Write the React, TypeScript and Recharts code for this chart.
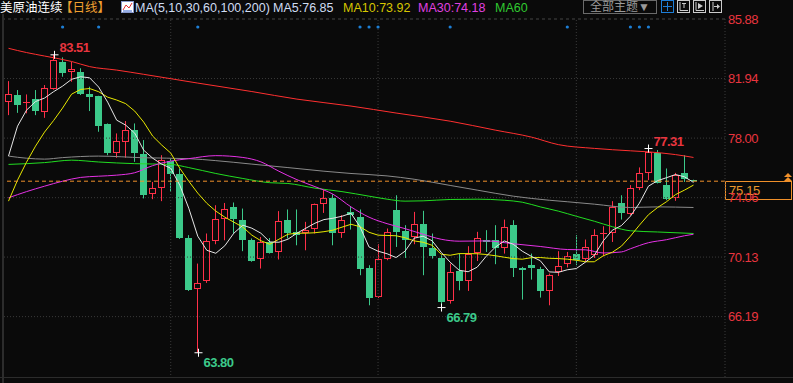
import React from "react";
import {
  ComposedChart,
  Bar,
  Line,
  XAxis,
  YAxis,
  ReferenceLine,
  ReferenceDot,
} from "recharts";

// daily candles, oldest first
const opens = [
  80.4, 80.85, 80.3, 80.56, 79.74, 81.26, 83.05, 82.35, 82.35, 80.89,
  80.78, 78.93, 77.03, 77.75, 78.53, 76.94, 74.27, 74.71, 76.5, 75.61,
  71.4, 68.05, 68.55, 71.2, 72.64, 73.41, 72.57, 71.24, 69.97, 71.13,
  70.47, 72.57, 71.8, 71.69, 71.97, 73.67, 74.05, 71.75, 73.08, 72.79,
  69.44, 67.49, 69.99, 73.23, 71.84, 71.46, 72.3, 70.76, 70.1, 67.21,
  69.19, 68.55, 70.43, 71.24, 71.29, 70.76, 72.24, 69.41, 69.59, 69.32,
  67.87, 69.11, 69.64, 70.36, 69.97, 70.25, 71.64, 71.75, 73.71, 73.01,
  74.67, 75.7, 76.99, 74.89, 74.01, 75.68, 75.2,
];
const highs = [
  81.77, 81.18, 80.89, 81.18, 81.51, 83.51, 83.34, 83.05, 82.62, 81.4,
  80.8, 78.97, 78.31, 79.13, 78.97, 77.87, 75.1, 76.87, 76.66, 75.99,
  71.58, 69.7, 71.69, 73.56, 73.71, 73.74, 73.34, 71.36, 71.46, 71.39,
  73.17, 73.28, 73.28, 72.46, 73.67, 74.6, 74.29, 72.9, 73.45, 73.28,
  69.59, 70.98, 72.02, 74.22, 72.24, 73.12, 73.19, 71.69, 70.25, 69.7,
  70.36, 70.85, 71.8, 71.91, 72.24, 72.61, 72.57, 69.48, 70.36, 69.48,
  69.04, 70.52, 70.47, 71.58, 71.29, 71.97, 72.17, 73.83, 74.22, 74.89,
  76.06, 77.31, 77.21, 75.99, 75.7, 76.87, 75.25,
];
const lows = [
  79.52, 79.67, 79.64, 79.52, 79.34, 81.2, 82.06, 81.73, 80.85, 79.79,
  78.42, 76.87, 76.7, 76.7, 76.43, 74.01, 73.96, 73.83, 74.44, 71.33,
  67.89, 63.8, 68.42, 70.98, 71.24, 71.69, 70.52, 69.82, 69.37, 70.36,
  69.97, 71.36, 70.91, 70.58, 71.69, 73.05, 70.91, 71.4, 71.95, 68.93,
  66.94, 67.42, 69.92, 70.8, 70.07, 70.98, 68.93, 70.03, 66.79, 67.05,
  67.93, 67.89, 69.87, 70.47, 69.66, 70.36, 68.81, 67.32, 68.64, 67.45,
  66.94, 68.88, 69.44, 69.59, 69.81, 70.07, 70.18, 71.13, 72.61, 72.9,
  74.56, 75.22, 75.0, 73.89, 73.85, 75.1, 75.1,
];
const closes = [
  80.89, 80.18, 80.36, 79.79, 81.29, 83.16, 82.32, 82.55, 80.89, 80.73,
  78.79, 76.99, 77.8, 78.53, 77.03, 74.22, 74.67, 76.54, 75.61, 71.4,
  67.93, 68.44, 71.18, 72.64, 73.34, 72.64, 71.24, 69.87, 71.13, 70.4,
  72.5, 71.73, 71.58, 71.95, 73.63, 74.07, 71.69, 72.61, 72.9, 69.32,
  67.42, 69.97, 71.8, 71.8, 71.24, 72.3, 70.8, 70.18, 67.16, 69.11,
  68.55, 70.36, 71.42, 71.13, 70.73, 72.13, 69.41, 69.3, 69.44, 67.87,
  68.97, 69.54, 70.21, 69.92, 70.8, 71.62, 71.73, 73.41, 73.05, 74.67,
  75.66, 77.09, 75.04, 73.94, 75.59, 75.28, 75.15,
];

// moving averages
const ma5 = [
  76.81, 78.79, 79.85, 80.42, 80.65, 81.07, 81.44, 81.89, 82.06, 81.99,
  81.38, 80.38, 79.19, 78.86, 78.33, 77.2, 76.67, 76.28, 76.01, 74.89,
  73.36, 71.51, 70.58, 70.38, 70.88, 71.71, 72.24, 72.04, 71.71, 71.13,
  71.11, 71.31, 71.71, 72.04, 72.37, 72.61, 72.7, 72.83, 73.03, 72.13,
  70.8, 70.52, 70.35, 70.1, 70.52, 71.38, 71.51, 71.21, 70.45, 69.79,
  69.26, 69.16, 69.46, 70.18, 70.78, 71.2, 70.98, 70.52, 70.18, 69.89,
  69.15, 69.12, 69.29, 69.37, 69.79, 70.25, 71.21, 71.91, 72.21, 72.83,
  73.7, 74.82, 75.18, 75.38, 75.59, 75.44, 75.07,
];
const ma10 = [
  73.83, 75.22, 76.41, 77.47, 78.4, 79.16, 79.99, 80.91, 81.22, 81.28,
  81.07, 80.71, 80.52, 80.28, 79.79, 79.06, 78.13, 77.54, 77.01, 76.01,
  75.15, 74.36, 73.69, 73.17, 72.77, 72.44, 72.11, 71.58, 71.21, 70.98,
  71.31, 71.64, 71.71, 71.71, 71.74, 71.81, 71.91, 72.11, 72.3, 72.14,
  71.77, 71.58, 71.56, 71.54, 71.41, 71.2, 71.11, 70.91, 70.32, 70.25,
  70.36, 70.36, 70.35, 70.3, 70.22, 70.12, 70.03, 69.99, 70.09, 70.1,
  70.05, 70.03, 69.99, 69.92, 69.82, 69.82, 70.22, 70.45, 70.85, 71.51,
  72.24, 72.93, 73.4, 73.79, 74.26, 74.56, 74.89,
];
// [candle index, value]
const ma30 = [
  [0, 74.05], [2, 74.46], [4, 74.82], [6, 75.15], [8, 75.4], [10, 75.48],
  [12, 75.55], [14, 75.71], [16, 76.18], [18, 76.48], [20, 76.64], [23, 76.84],
  [26, 76.72], [28, 76.43], [30, 75.81], [32, 75.25], [34, 74.79], [36, 74.29],
  [38, 73.45], [40, 72.77], [42, 72.34], [44, 72.01], [46, 71.64], [48, 71.31],
  [50, 71.18], [53, 71.2], [56, 71.01], [59, 70.83], [62, 70.63], [64, 70.61],
  [66, 70.4], [68, 70.47], [69, 70.68], [71, 71.08], [73, 71.28], [75, 71.54],
  [76, 71.64],
];
const ma60 = [
  [0, 76.26], [4, 76.38], [7, 76.54], [10, 76.42], [14, 76.31], [18, 76.26],
  [20, 76.05], [23, 75.66], [26, 75.33], [29, 75.05], [31, 75.0], [34, 74.69],
  [37, 74.46], [40, 74.16], [42, 73.96], [44, 73.83], [46, 73.85], [49, 73.94],
  [52, 73.96], [55, 73.89], [57, 73.76], [59, 73.45], [61, 73.17], [63, 72.83],
  [65, 72.5], [67, 72.14], [69, 71.87], [72, 71.79], [76, 71.69],
];
const ma100 = [
  [0, 76.81], [2, 76.67], [4, 76.61], [6, 76.71], [10, 76.81], [15, 76.7],
  [20, 76.64], [23, 76.51], [27, 76.28], [31, 76.05], [35, 75.81], [38, 75.66],
  [42, 75.5], [45, 75.28], [49, 74.87], [52, 74.56], [56, 74.16], [60, 73.89],
  [62, 73.79], [65, 73.63], [69, 73.41], [72, 73.45], [76, 73.41],
];
const ma200 = [
  [0, 83.94], [2, 83.66], [4, 83.43], [7, 83.07], [9, 82.73], [12, 82.5],
  [15, 82.22], [21, 81.64], [27, 81.08], [32, 80.58], [38, 80.12], [43, 79.66],
  [49, 79.12], [54, 78.53], [58, 78.07], [61, 77.57], [65, 77.32], [69, 77.16],
  [71, 77.09], [74, 76.91], [76, 76.72],
];

const yTicks = [85.88, 81.94, 78.0, 74.06, 70.13, 66.19];
const monthStarts = [18, 41, 63];
const eventDays = [6, 10, 21, 39, 40, 41, 49, 62, 69, 70, 71];
const eventRow = 85.35;
const highMarks = [5, 71];
const lowMarks = [21, 48];
const lastPrice = 75.15;

const UP = "#ff3048";
const DOWN = "#3cc98a";
const BG = "#0a0a0a";
const GRID = "#3a3a3a";
const FONT = 'Arial, "Liberation Sans", "Noto Sans CJK SC", sans-serif';

type Row = { [k: string]: number | null };
const data: Row[] = opens.map((o, i) => ({
  i,
  open: o,
  high: highs[i],
  low: lows[i],
  close: closes[i],
  ma5: ma5[i],
  ma10: ma10[i],
  ma30: null,
  ma60: null,
  ma100: null,
  ma200: null,
  ev: null,
}));
const fill = (key: string, pts: number[][]) =>
  pts.forEach(([i, v]) => {
    data[i][key] = v;
  });
fill("ma30", ma30);
fill("ma60", ma60);
fill("ma100", ma100);
fill("ma200", ma200);
eventDays.forEach((i) => {
  data[i].ev = eventRow;
});

function Candle(props: any) {
  const { x, y, width, height, payload } = props;
  if (!payload || height == null || isNaN(y)) return null;
  const { open, close, high, low } = payload;
  const top = height < 0 ? y + height : y;
  const h = Math.abs(height);
  const k = h / (high - low || 1);
  const py = (v: number) => top + (high - v) * k;
  const left = Math.round(x);
  const w = Math.round(width);
  const cx = left + Math.floor(w / 2) + 0.5;
  const bt = Math.round(py(Math.max(open, close)));
  const bb = Math.round(py(Math.min(open, close)));
  const bh = Math.max(bb - bt, 1);
  if (close >= open) {
    return (
      <g>
        <line x1={cx} x2={cx} y1={py(high)} y2={bt} stroke={UP} />
        <line x1={cx} x2={cx} y1={bt + bh} y2={py(low)} stroke={UP} />
        {bh <= 2 ? (
          <line x1={left} x2={left + w} y1={bt + 0.5} y2={bt + 0.5} stroke={UP} />
        ) : (
          <rect x={left + 0.5} y={bt + 0.5} width={w - 1} height={bh - 1} fill={BG} stroke={UP} />
        )}
      </g>
    );
  }
  return (
    <g>
      <line x1={cx} x2={cx} y1={py(high)} y2={py(low)} stroke={DOWN} />
      <rect x={left} y={bt} width={w} height={bh} fill={DOWN} />
    </g>
  );
}

// white cross at an extreme plus its value
function Extreme({ cx, cy, value, color, below }: any) {
  if (cx == null || cy == null) return null;
  const x = Math.round(cx) + 0.5;
  return (
    <g>
      <line x1={x - 4} x2={x + 4} y1={cy} y2={cy} stroke="#fff" />
      <line x1={x} x2={x} y1={cy - 4} y2={cy + 4} stroke="#fff" />
      <text
        x={x + 5}
        y={below ? cy + 14 : cy - 3}
        fill={color}
        fontSize={13}
        fontWeight="bold"
        fontFamily={FONT}
        letterSpacing={-0.5}
      >
        {value.toFixed(2)}
      </text>
    </g>
  );
}

function PriceTag(props: any) {
  const { viewBox } = props;
  if (!viewBox) return null;
  const bx = viewBox.x + viewBox.width;
  const y = Math.round(viewBox.y);
  return (
    <g>
      <rect x={bx + 0.5} y={y + 0.5} width={66} height={18} fill={BG} stroke="#f0902a" />
      <text x={bx + 4} y={y + 14} fill="#e8962c" fontSize={13} fontFamily={FONT} letterSpacing={-0.3}>
        {lastPrice.toFixed(2)}
      </text>
      <polygon points={`${bx + 59},${y - 4} ${bx + 63},${y - 8} ${bx + 67},${y - 4}`} fill="#f0902a" />
      <polygon points={`${bx + 59},${y} ${bx + 63},${y - 4} ${bx + 67},${y}`} fill="#f0902a" />
    </g>
  );
}

const Txt = ({ x, color, children }: any) => (
  <span
    style={{
      position: "absolute",
      left: x,
      top: 1,
      color,
      fontSize: 12.5,
      lineHeight: "14px",
      whiteSpace: "nowrap",
    }}
  >
    {children}
  </span>
);

const IconBox = ({ x, color, children }: any) => (
  <svg width={13} height={13} style={{ position: "absolute", left: x, top: 0 }}>
    <rect x={0.5} y={0.5} width={12} height={12} fill="none" stroke={color} />
    {children}
  </svg>
);

export default function App() {
  return (
    <div
      style={{
        position: "absolute",
        left: 0,
        top: 0,
        width: 793,
        height: 383,
        background: BG,
        overflow: "hidden",
        fontFamily: FONT,
      }}
    >
      <ComposedChart
        width={793}
        height={383}
        data={data}
        margin={{ top: 19, right: 0, bottom: 5, left: 4 }}
      >
        <XAxis dataKey="i" hide padding={{ left: 0, right: 27 }} />
        <YAxis
          orientation="right"
          width={68}
          domain={[62.13, 85.88]}
          ticks={yTicks}
          allowDataOverflow
          tick={false}
          tickLine={false}
          axisLine={{ stroke: GRID, strokeDasharray: "1 2" }}
        />
        {/* price grid, labels drawn here so the price tag can sit on top */}
        {yTicks.map((t, k) => (
          <ReferenceLine
            key={t}
            y={t}
            stroke={k === 0 ? "#444" : GRID}
            strokeDasharray={k === 0 ? "3 3" : "1 2"}
            label={{
              value: t.toFixed(2),
              position: "right",
              offset: 3,
              fill: "#e8353f",
              fontSize: 13,
              fontFamily: FONT,
              letterSpacing: -0.5,
            }}
          />
        ))}
        {monthStarts.map((m) => (
          <ReferenceLine key={m} x={m} stroke={GRID} strokeDasharray="1 2" />
        ))}
        <Bar
          dataKey={(d: any) => [d.low, d.high]}
          barSize={7}
          shape={<Candle />}
          isAnimationActive={false}
        />
        <Line dataKey="ma200" stroke="#ff3030" dot={false} connectNulls type="monotone" isAnimationActive={false} />
        <Line dataKey="ma100" stroke="#8a8a8a" dot={false} connectNulls type="monotone" isAnimationActive={false} />
        <Line dataKey="ma60" stroke="#22dd22" dot={false} connectNulls type="monotone" isAnimationActive={false} />
        <Line dataKey="ma30" stroke="#e632e6" dot={false} connectNulls type="monotone" isAnimationActive={false} />
        <Line dataKey="ma10" stroke="#e8e800" dot={false} type="linear" isAnimationActive={false} />
        <Line dataKey="ma5" stroke="#e6e6e6" dot={false} type="linear" isAnimationActive={false} />
        <Line
          dataKey="ev"
          stroke="none"
          dot={{ r: 1.6, fill: "#1d7fd6", stroke: "none" }}
          isAnimationActive={false}
        />
        <ReferenceLine
          y={lastPrice}
          stroke="#f0902a"
          strokeDasharray="4 3"
          label={<PriceTag />}
        />
        {highMarks.map((i) => (
          <ReferenceDot
            key={"h" + i}
            x={i}
            y={highs[i]}
            r={0}
            ifOverflow="visible"
            shape={(p: any) => <Extreme cx={p.cx} cy={p.cy} value={highs[i]} color="#e8353f" />}
          />
        ))}
        {lowMarks.map((i) => (
          <ReferenceDot
            key={"l" + i}
            x={i}
            y={lows[i]}
            r={0}
            ifOverflow="visible"
            shape={(p: any) => <Extreme cx={p.cx} cy={p.cy} value={lows[i]} color={DOWN} below />}
          />
        ))}
      </ComposedChart>

      {/* frame */}
      <div style={{ position: "absolute", left: 2, top: 14, width: 2, height: 369, background: "#2c2c2c" }} />
      <div style={{ position: "absolute", left: 0, top: 377, width: 793, height: 1, background: "#2c2c2c" }} />

      {/* header */}
      <Txt x={0} color="#ffffff">美原油连续</Txt>
      <Txt x={60} color="#f0a030">【日线】</Txt>
      <svg width={13} height={12} style={{ position: "absolute", left: 121, top: 1 }}>
        <rect x={0.5} y={0.5} width={12} height={11} fill="#fff" stroke="#8899cc" />
        <polyline points="2,9 5,4 8,7 11,2" fill="none" stroke="#e03030" />
        <polyline points="2,10 11,10" fill="none" stroke="#3060d0" />
      </svg>
      <Txt x={135} color="#cfdcf2">MA(5,10,30,60,100,200)</Txt>
      <Txt x={273} color="#cfdcf2">MA5:76.85</Txt>
      <Txt x={343} color="#d6c600">MA10:73.92</Txt>
      <Txt x={418} color="#e040e0">MA30:74.18</Txt>
      <Txt x={495} color="#30c830">MA60</Txt>

      <div
        style={{
          position: "absolute",
          left: 583,
          top: 0,
          width: 72,
          height: 12,
          border: "1px solid #6a6a6a",
          color: "#9a9a9a",
          fontSize: 12,
          lineHeight: "12px",
          textAlign: "center",
        }}
      >
        全部主题▼
      </div>
      <IconBox x={661} color="#1e7fd8">
        <line x1={6.5} x2={6.5} y1={2} y2={11} stroke="#1e7fd8" />
        <line x1={2} x2={11} y1={6.5} y2={6.5} stroke="#1e7fd8" />
      </IconBox>
      <IconBox x={677} color="#cccccc">
        <polyline points="3,2 3,10.5 11,10.5" fill="none" stroke="#ccc" />
        <line x1={5} x2={9} y1={3.5} y2={3.5} stroke="#ccc" />
        <line x1={7} x2={7} y1={3.5} y2={8} stroke="#ccc" />
      </IconBox>
      <IconBox x={693} color="#cccccc">
        <polyline points="3,2 3,10.5 11,10.5" fill="none" stroke="#ccc" />
        <polygon points="5,3 10,6 5,9" fill="#ccc" />
      </IconBox>
      <IconBox x={709} color="#cccccc">
        <line x1={4} x2={4} y1={2} y2={11} stroke="#ccc" />
        <line x1={5} x2={9} y1={6.5} y2={6.5} stroke="#ccc" />
        <polygon points="8,4 11,6.5 8,9" fill="#ccc" />
      </IconBox>
    </div>
  );
}
